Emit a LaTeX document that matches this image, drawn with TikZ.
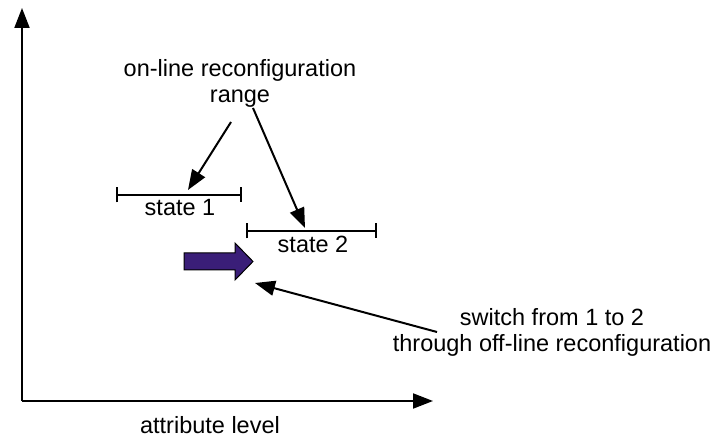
\documentclass[tikz,border=0pt]{standalone}
\usepackage{fontspec}
\setmainfont{Liberation Sans}
\usetikzlibrary{arrows.meta}
\definecolor{switchblue}{HTML}{3A1E78}
\begin{document}
\begin{tikzpicture}[x=1pt,y=-1pt,
  lbl/.style={font=\fontsize{23.5}{26}\selectfont, inner sep=0pt, align=center},
  conn/.style={line width=2pt, -{Triangle[length=20pt,width=15pt]}},
  bar/.style={line width=2pt, {Bar[width=15pt]}-{Bar[width=15pt]}}]
\useasboundingbox (0,0) rectangle (712,438);
% axes
\coordinate (o) at (22,401);
\coordinate (ytop) at (22,8);
\coordinate (xend) at (433,401);
\draw[conn] (o) -- (ytop);
\draw[conn] (o) -- (xend);
\node[lbl] (xlabel) at (210,425) {attribute level};
% range label
\node[lbl] (range) at (240,83) {on-line reconfiguration\\range};
% state bars
\coordinate (s1a) at (116,195);
\coordinate (s1b) at (242,195);
\draw[bar] (s1a) -- (s1b);
\node[lbl] (s1) at (180,208) {state 1};
\coordinate (s2a) at (246,231);
\coordinate (s2b) at (377,231);
\draw[bar] (s2a) -- (s2b);
\node[lbl] (s2) at (313,244) {state 2};
% arrows from label
\coordinate (r1) at (231,122);
\coordinate (t1) at (188,190);
\draw[conn] (r1) -- (t1);
\coordinate (r2) at (253,108);
\coordinate (t2) at (305,228);
\draw[conn] (r2) -- (t2);
% thick blue arrow
\draw[fill=switchblue, draw=black, line width=1pt]
  (184,253) -- (235,253) -- (235,243) -- (253,261.5) -- (235,280) -- (235,270) -- (184,270) -- cycle;
% switch label
\node[lbl] (sw) at (552,332) {switch from 1 to 2\\through off-line reconfiguration};
\coordinate (swtail) at (437,332);
\coordinate (swtip) at (255,283);
\draw[conn] (swtail) -- (swtip);
\end{tikzpicture}
\end{document}
